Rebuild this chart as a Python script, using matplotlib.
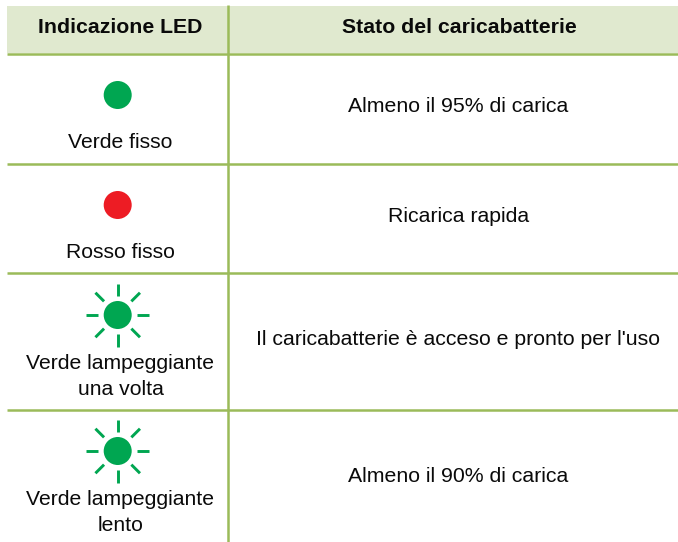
import numpy as np
import matplotlib
matplotlib.use("Agg")
import matplotlib.pyplot as plt
from matplotlib.patches import Circle, Rectangle

W, H = 678, 542
headers = ["Indicazione LED", "Stato del caricabatterie"]
led_labels = ["Verde fisso", "Rosso fisso", "Verde lampeggiante\nuna volta", "Verde lampeggiante\nlento"]
states = ["Almeno il 95% di carica", "Ricarica rapida",
          "Il caricabatterie è acceso e pronto per l'uso", "Almeno il 90% di carica"]
led_colors = ["#00A651", "#ED1C24", "#00A651", "#00A651"]
blinking = [False, False, True, True]
led_y = [95, 205, 315, 451]
led_label_y = [148, 258, 395, 531]
state_y = [112, 222, 345, 482]
rule_y = [53.5, 164, 272.5, 409.5]

GRID = "#9BBB59"
HEAD = "#E0E9CF"
INK = "#0A0A0A"

plt.rcParams["font.family"] = ["Liberation Sans", "DejaVu Sans"]
fig = plt.figure(figsize=(W / 100, H / 100), dpi=100)
ax = fig.add_axes([0, 0, 1, 1])
ax.set_xlim(0, W)
ax.set_ylim(H, 0)
ax.axis("off")

ax.add_patch(Rectangle((7, 6), W - 7, 47, fc=HEAD, ec="none", zorder=1))
for y in rule_y:
    ax.plot([7, W], [y, y], color=GRID, lw=1.8, solid_capstyle="butt", zorder=2)
ax.plot([228, 228], [5, H], color=GRID, lw=1.8, solid_capstyle="butt", zorder=2)

ax.text(120, 33, headers[0], ha="center", va="baseline", fontsize=15.3, fontweight="bold", color=INK)
ax.text(459, 33, headers[1], ha="center", va="baseline", fontsize=15.3, fontweight="bold", color=INK)

for label, state, col, blink, ly, lty, sy in zip(led_labels, states, led_colors, blinking, led_y, led_label_y, state_y):
    cx = 117.7
    ax.add_patch(Circle((cx, ly), 14, fc=col, ec="none", zorder=3))
    if blink:
        for a in np.arange(8) * np.pi / 4:
            ax.plot([cx + 19.3 * np.cos(a), cx + 31.5 * np.cos(a)],
                    [ly + 19.3 * np.sin(a), ly + 31.5 * np.sin(a)],
                    color=col, lw=2.1, solid_capstyle="butt", zorder=3)
    ax.text(120.5, lty, label, ha="center", va="baseline", fontsize=15.25, color=INK, linespacing=1.44)
    ax.text(458.5, sy, state, ha="center", va="baseline", fontsize=15.3, color=INK)

fig.savefig("out.png", dpi=100)
